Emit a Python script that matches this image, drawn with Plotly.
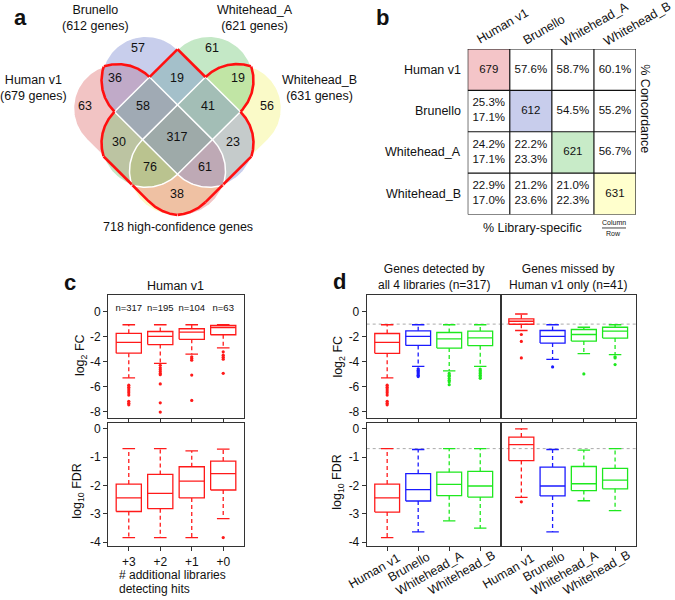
import numpy as np
import plotly.graph_objects as go

W, H = 675, 600
FONT = "Liberation Sans, Arial, Helvetica, sans-serif"

# ============================ DATA ============================
libraries = ["Human v1", "Brunello", "Whitehead_A", "Whitehead_B"]
library_gene_counts = [679, 612, 621, 631]
high_confidence_genes = 718

# Venn regions (membership code: H=Human v1, B=Brunello, A=Whitehead_A, W=Whitehead_B)
venn_region_keys = ["H", "B", "A", "W", "HB", "BA", "AW", "HBA", "BAW",
                    "HBAW", "HA", "BW", "HAW", "HBW", "HW"]
venn_region_counts = [63, 57, 61, 56, 36, 19, 19, 58, 41, 317, 30, 23, 76, 61, 38]

# Table (panel b)
table_diagonal = [679, 612, 621, 631]
concordance_row = [0, 0, 0, 1, 1, 2]
concordance_col = [1, 2, 3, 2, 3, 3]
concordance_pct = [57.6, 58.7, 60.1, 54.5, 55.2, 56.7]
specific_row = [1, 2, 2, 3, 3, 3]
specific_col = [0, 0, 1, 0, 1, 2]
specific_pct_column = [25.3, 24.2, 22.2, 22.9, 21.2, 21.0]
specific_pct_row = [17.1, 17.1, 23.3, 17.0, 23.6, 22.3]

# Panel c (Human v1 hits by # additional libraries)
c_groups = ["+3", "+2", "+1", "+0"]
c_n = [317, 195, 104, 63]
c_fc_low = [-5.30, -4.15, -3.41, -2.91]
c_fc_q1 = [-3.33, -2.64, -2.22, -1.85]
c_fc_med = [-2.46, -1.98, -1.64, -1.27]
c_fc_q3 = [-1.74, -1.59, -1.37, -1.11]
c_fc_up = [-1.05, -1.05, -1.05, -1.05]
c_fc_out = [[-5.89, -6.05, -6.2, -6.35, -6.5, -6.68, -7.18, -7.33, -7.46],
            [-4.3, -4.5, -4.65, -4.8, -4.95, -5.05, -5.79, -7.30, -8.04],
            [-3.62, -3.75, -3.89, -5.08, -7.11],
            [-3.22, -3.49, -3.65, -3.81, -4.94]]
c_fdr_low = [-3.84, -3.84, -3.84, -3.17]
c_fdr_q1 = [-2.92, -2.82, -2.44, -2.16]
c_fdr_med = [-2.44, -2.28, -1.85, -1.58]
c_fdr_q3 = [-1.95, -1.61, -1.34, -1.14]
c_fdr_up = [-0.70, -0.70, -0.78, -0.72]
c_fdr_out = [[], [], [], [-3.84]]

# Panel d
d_titles = ["Genes detected by<br>all 4 libraries (n=317)",
            "Genes missed by<br>Human v1 only (n=41)"]
d_colors = ["#ff1a1a", "#1a1aff", "#1ee81e", "#1ee81e"]
fc_cutoff = -1.0
fdr_cutoff = np.log10(0.2)

d_all_fc_low = [-5.31, -4.38, -4.75, -4.38]
d_all_fc_q1 = [-3.34, -2.71, -2.92, -2.73]
d_all_fc_med = [-2.47, -1.99, -2.18, -2.10]
d_all_fc_q3 = [-1.75, -1.54, -1.67, -1.56]
d_all_fc_up = [-1.05, -1.05, -1.05, -1.05]
d_all_fc_out = [[-5.89, -6.05, -6.2, -6.35, -6.5, -6.68, -7.18, -7.33, -7.46],
                [-4.58, -4.69, -4.8, -4.9, -5.0, -5.1, -5.2],
                [-4.95, -5.09, -5.2, -5.36, -5.5, -5.62, -5.85],
                [-4.6, -4.72, -4.83, -4.95, -5.09, -5.22, -5.34]]
d_miss_fc_low = [-1.51, -3.82, -3.37, -3.45]
d_miss_fc_q1 = [-1.01, -2.52, -2.36, -2.12]
d_miss_fc_med = [-0.77, -1.99, -1.83, -1.56]
d_miss_fc_q3 = [-0.58, -1.51, -1.43, -1.25]
d_miss_fc_up = [-0.19, -1.05, -1.25, -1.05]
d_miss_fc_out = [[-1.83, -2.39, -3.71], [-4.43], [-4.99], [-3.62, -3.71, -4.24]]

d_all_fdr_low = [-3.84, -3.64, -3.25, -3.51]
d_all_fdr_q1 = [-2.94, -2.55, -2.36, -2.41]
d_all_fdr_med = [-2.44, -2.15, -1.96, -2.02]
d_all_fdr_q3 = [-1.95, -1.58, -1.53, -1.50]
d_all_fdr_up = [-0.70, -0.73, -0.70, -0.70]
d_all_fdr_out = [[], [], [], []]
d_miss_fdr_low = [-2.42, -3.64, -2.54, -2.89]
d_miss_fdr_q1 = [-1.12, -2.37, -2.18, -2.12]
d_miss_fdr_med = [-0.56, -2.02, -1.94, -1.81]
d_miss_fdr_q3 = [-0.29, -1.35, -1.33, -1.40]
d_miss_fdr_up = [0.0, -0.73, -0.75, -0.70]
d_miss_fdr_out = [[-2.58], [], [], []]

fc_ticks = [0, -2, -4, -6, -8]
fdr_ticks = [0, -1, -2, -3, -4]

# ============================ HELPERS ============================
def dom_x(x0, x1):
    return [x0 / W, x1 / W]


def dom_y(y0, y1):
    return [1 - y1 / H, 1 - y0 / H]


def PX(x):
    return x / W


def PY(y):
    return 1 - y / H


fig = go.Figure()
annotations = []
shapes = []

# ============================ PANEL a (Venn) ============================
VX0, VY0, VR = 177.5, 139.5, 44.5


def uv(u, v):
    return (VX0 + (u - v) / 2.0, VY0 + (u + v) / 2.0)


venn_segments = {
    "Human v1": (uv(-91, 28), uv(35, 28)),
    "Brunello": (uv(-91, -28), uv(35, -28)),
    "Whitehead_A": (uv(-28, -91), uv(-28, 35)),
    "Whitehead_B": (uv(28, -91), uv(28, 35)),
}
venn_fill = {
    "Human v1": "rgba(222,108,108,0.4)",
    "Brunello": "rgba(117,132,207,0.4)",
    "Whitehead_A": "rgba(107,197,112,0.4)",
    "Whitehead_B": "rgba(242,242,117,0.4)",
}
draw_order = ["Whitehead_B", "Human v1", "Whitehead_A", "Brunello"]


def stadium(p1, p2, r, n=90):
    (x1, y1), (x2, y2) = p1, p2
    ad = np.arctan2(y2 - y1, x2 - x1)
    t2 = np.linspace(ad - np.pi / 2, ad + np.pi / 2, n)
    t1 = np.linspace(ad + np.pi / 2, ad + 3 * np.pi / 2, n)
    xs = np.concatenate([x2 + r * np.cos(t2), x1 + r * np.cos(t1), [x2 + r * np.cos(t2[0])]])
    ys = np.concatenate([y2 + r * np.sin(t2), y1 + r * np.sin(t1), [y2 + r * np.sin(t2[0])]])
    return xs, ys


def resample(xs, ys, n):
    seg = np.hypot(np.diff(xs), np.diff(ys))
    s = np.concatenate([[0], np.cumsum(seg)])
    t = np.linspace(0, s[-1], n)
    return np.interp(t, s, xs), np.interp(t, s, ys)


def seg_dist(px, py, a, b):
    ax, ay = a
    bx, by = b
    dx, dy = bx - ax, by - ay
    t = np.clip(((px - ax) * dx + (py - ay) * dy) / (dx * dx + dy * dy), 0, 1)
    return np.hypot(px - (ax + t * dx), py - (ay + t * dy))


for name in draw_order:
    xs, ys = stadium(*venn_segments[name], VR)
    fig.add_trace(go.Scatter(x=xs, y=ys, mode="lines", fill="toself",
                             fillcolor=venn_fill[name], line=dict(width=0),
                             hoverinfo="skip", showlegend=False, xaxis="x", yaxis="y"))
for name in draw_order:
    xs, ys = stadium(*venn_segments[name], VR)
    fig.add_trace(go.Scatter(x=xs, y=ys, mode="lines", line=dict(color="white", width=1.5),
                             hoverinfo="skip", showlegend=False, xaxis="x", yaxis="y"))

# red outline: boundary of the region covered by >= 2 libraries
for name in libraries:
    xs, ys = resample(*stadium(*venn_segments[name], VR, n=400), 1600)
    others = [venn_segments[o] for o in libraries if o != name]
    cnt = np.zeros_like(xs)
    for a, b in others:
        cnt += (seg_dist(xs, ys, a, b) < VR).astype(float)
    keep = cnt == 1
    ox, oy = [], []
    for k in range(len(xs)):
        if keep[k]:
            ox.append(float(xs[k])); oy.append(float(ys[k]))
        elif ox and ox[-1] is not None:
            ox.append(None); oy.append(None)
    fig.add_trace(go.Scatter(x=ox, y=oy, mode="lines", line=dict(color="#ff1010", width=2.6),
                             connectgaps=False, hoverinfo="skip", showlegend=False,
                             xaxis="x", yaxis="y"))

venn_label_xy = {
    "H": (85, 107), "B": (138, 48), "A": (212, 48), "W": (267, 107),
    "HB": (115, 78), "BA": (177, 78), "AW": (238, 78), "HBA": (143, 107),
    "BAW": (208, 107), "HBAW": (177, 138), "HA": (119, 143), "BW": (233, 143),
    "HAW": (150, 168), "HBW": (205, 168), "HW": (177, 195),
}
fig.add_trace(go.Scatter(
    x=[venn_label_xy[k][0] for k in venn_region_keys],
    y=[venn_label_xy[k][1] for k in venn_region_keys],
    text=[str(v) for v in venn_region_counts], mode="text",
    textfont=dict(family=FONT, size=12.5, color="#111"),
    hoverinfo="skip", showlegend=False, xaxis="x", yaxis="y"))

set_label_xy = {"Human v1": (33, 87.5), "Brunello": (95, 17.5),
                "Whitehead_A": (255, 17.5), "Whitehead_B": (319, 87.5)}
for name, cnt in zip(libraries, library_gene_counts):
    x, y = set_label_xy[name]
    annotations.append(dict(x=PX(x), y=PY(y), xref="paper", yref="paper",
                            text=f"{name}<br>({cnt} genes)", showarrow=False,
                            font=dict(family=FONT, size=12.5, color="#111"),
                            xanchor="center", yanchor="middle"))
annotations.append(dict(x=PX(178), y=PY(228), xref="paper", yref="paper",
                        text=f"{high_confidence_genes} high-confidence genes", showarrow=False,
                        font=dict(family=FONT, size=12.5, color="#111"),
                        xanchor="center", yanchor="middle"))

# ============================ PANEL b (table) ============================
nlib = len(libraries)
zt = [[(i + 1) if i == j else 0 for j in range(nlib)] for i in range(nlib)]
diag_cols = ["white", "#f4c5c8", "#c8cdec", "#c8ebc8", "#ffffcd"]
cs = []
for k, col in enumerate(diag_cols):
    lo = max(0, (k - 0.5) / 4)
    hi = min(1, (k + 0.5) / 4)
    cs += [[lo, col], [hi, col]]
fig.add_trace(go.Heatmap(z=zt, x=[j + 0.5 for j in range(nlib)], y=[i + 0.5 for i in range(nlib)],
                         zmin=0, zmax=4, colorscale=cs, showscale=False, hoverinfo="skip",
                         xaxis="x2", yaxis="y2"))
gxl, gyl = [], []
for k in range(nlib + 1):
    gxl += [k, k, None, 0, nlib, None]
    gyl += [0, nlib, None, k, k, None]
fig.add_trace(go.Scatter(x=gxl, y=gyl, mode="lines", line=dict(color="#111", width=1.2),
                         hoverinfo="skip", showlegend=False, xaxis="x2", yaxis="y2"))
tx, ty, tt = [], [], []
for i, v in enumerate(table_diagonal):
    tx.append(i + 0.5); ty.append(i + 0.5); tt.append(str(v))
for r, c, v in zip(concordance_row, concordance_col, concordance_pct):
    tx.append(c + 0.5); ty.append(r + 0.5); tt.append(f"{v:.1f}%")
for r, c, a, b in zip(specific_row, specific_col, specific_pct_column, specific_pct_row):
    tx.append(c + 0.5); ty.append(r + 0.5); tt.append(f"{a:.1f}%<br>{b:.1f}%")
fig.add_trace(go.Scatter(x=tx, y=ty, text=tt, mode="text",
                         textfont=dict(family=FONT, size=11.5, color="#111"),
                         hoverinfo="skip", showlegend=False, xaxis="x2", yaxis="y2"))

TB_X0, TB_X1, TB_Y0, TB_Y1 = 467.7, 636.0, 48.3, 215.0
cell_h = (TB_Y1 - TB_Y0) / nlib
for i, name in enumerate(libraries):
    annotations.append(dict(x=PX(TB_X0 - 5), y=PY(TB_Y0 + (i + 0.5) * cell_h), xref="paper",
                            yref="paper", text=name, showarrow=False, xanchor="right",
                            yanchor="middle", font=dict(family=FONT, size=12.5, color="#111")))
header_xy = [(502.5, 25), (543.7, 29), (595, 23.5), (637, 23.5)]
for name, (x, y) in zip(libraries, header_xy):
    annotations.append(dict(x=PX(x), y=PY(y), xref="paper", yref="paper", text=name,
                            showarrow=False, textangle=-30, xanchor="center", yanchor="middle",
                            font=dict(family=FONT, size=12.5, color="#111")))
annotations.append(dict(x=PX(645), y=PY(108), xref="paper", yref="paper", text="% Concordance",
                        showarrow=False, textangle=90, xanchor="center", yanchor="middle",
                        font=dict(family=FONT, size=12.5, color="#111")))
annotations.append(dict(x=PX(532), y=PY(228.5), xref="paper", yref="paper",
                        text="% Library-specific", showarrow=False, xanchor="center",
                        yanchor="middle", font=dict(family=FONT, size=12.5, color="#111")))
annotations.append(dict(x=PX(613.5), y=PY(223), xref="paper", yref="paper", text="Column",
                        showarrow=False, xanchor="center", yanchor="middle",
                        font=dict(family=FONT, size=7, color="#111")))
annotations.append(dict(x=PX(613.5), y=PY(234), xref="paper", yref="paper", text="Row",
                        showarrow=False, xanchor="center", yanchor="middle",
                        font=dict(family=FONT, size=7, color="#111")))
shapes.append(dict(type="line", xref="paper", yref="paper", x0=PX(602), x1=PX(626),
                   y0=PY(228.5), y1=PY(228.5), line=dict(color="#111", width=0.8)))

# ============================ BOXPLOTS ============================
def add_box(xa, ya, xc, low, q1, med, q3, up, outs, color, hw=0.4, cw=0.2):
    sx = [xc - hw, xc + hw, xc + hw, xc - hw, xc - hw, None, xc - hw, xc + hw, None,
          xc - cw, xc + cw, None, xc - cw, xc + cw]
    sy = [q1, q1, q3, q3, q1, None, med, med, None, up, up, None, low, low]
    fig.add_trace(go.Scatter(x=sx, y=sy, mode="lines", line=dict(color=color, width=1.3),
                             hoverinfo="skip", showlegend=False, xaxis=xa, yaxis=ya))
    fig.add_trace(go.Scatter(x=[xc, xc, None, xc, xc], y=[q3, up, None, q1, low], mode="lines",
                             line=dict(color=color, width=1.3, dash="4px,3px"),
                             hoverinfo="skip", showlegend=False, xaxis=xa, yaxis=ya))
    if outs:
        fig.add_trace(go.Scatter(x=[xc] * len(outs), y=outs, mode="markers",
                                 marker=dict(color=color, size=3.2, line=dict(width=0)),
                                 hoverinfo="skip", showlegend=False, xaxis=xa, yaxis=ya))


def add_group(xa, ya, low, q1, med, q3, up, outs, colors):
    for i in range(len(low)):
        add_box(xa, ya, i + 1, low[i], q1[i], med[i], q3[i], up[i], outs[i], colors[i])


red4 = [d_colors[0]] * 4
add_group("x3", "y3", c_fc_low, c_fc_q1, c_fc_med, c_fc_q3, c_fc_up, c_fc_out, red4)
add_group("x4", "y4", c_fdr_low, c_fdr_q1, c_fdr_med, c_fdr_q3, c_fdr_up, c_fdr_out, red4)
fig.add_trace(go.Scatter(x=[1, 2, 3, 4], y=[0.2] * 4, text=[f"n={n}" for n in c_n], mode="text",
                         textfont=dict(family=FONT, size=9.5, color="#111"),
                         hoverinfo="skip", showlegend=False, xaxis="x3", yaxis="y3"))
add_group("x5", "y5", d_all_fc_low, d_all_fc_q1, d_all_fc_med, d_all_fc_q3, d_all_fc_up,
          d_all_fc_out, d_colors)
add_group("x6", "y6", d_miss_fc_low, d_miss_fc_q1, d_miss_fc_med, d_miss_fc_q3, d_miss_fc_up,
          d_miss_fc_out, d_colors)
add_group("x7", "y7", d_all_fdr_low, d_all_fdr_q1, d_all_fdr_med, d_all_fdr_q3, d_all_fdr_up,
          d_all_fdr_out, d_colors)
add_group("x8", "y8", d_miss_fdr_low, d_miss_fdr_q1, d_miss_fdr_med, d_miss_fdr_q3,
          d_miss_fdr_up, d_miss_fdr_out, d_colors)

for xa, ya, yv in [("x5", "y5", fc_cutoff), ("x6", "y6", fc_cutoff),
                   ("x7", "y7", fdr_cutoff), ("x8", "y8", fdr_cutoff)]:
    shapes.append(dict(type="line", xref=f"{xa} domain", yref=ya, x0=0, x1=1, y0=yv, y1=yv,
                       line=dict(color="#aaaaaa", width=1, dash="dot"), layer="below"))

# ============================ AXES ============================
AXC = "#333"
TF = dict(family=FONT, size=12, color="#111")
TOP_Y = (296, 420)
BOT_Y = (425, 549)
FC_RANGE = [-8.533, 1.328]
FDR_RANGE = [-4.151, 0.2]
X_RANGE = [0.34, 4.66]


def box_xaxis(idx, xpix, ticktext=None):
    return dict(domain=dom_x(*xpix), range=X_RANGE, anchor=f"y{idx}",
                tickmode="array", tickvals=[1, 2, 3, 4], ticktext=ticktext,
                showticklabels=ticktext is not None,
                ticks="outside", ticklen=4, tickcolor=AXC, tickfont=TF,
                showline=True, mirror=True, linecolor=AXC, linewidth=1,
                showgrid=False, zeroline=False, fixedrange=True)


def box_yaxis(idx, ypix, rng, tickvals, labels=True):
    return dict(domain=dom_y(*ypix), range=rng, anchor=f"x{idx}",
                tickmode="array", tickvals=tickvals if labels else [],
                ticktext=[str(v) for v in tickvals] if labels else [],
                showticklabels=labels, ticks="outside" if labels else "",
                ticklen=4, tickcolor=AXC, tickfont=TF,
                showline=True, mirror=True, linecolor=AXC, linewidth=1,
                showgrid=False, zeroline=False, fixedrange=True)


C_X = (108, 244)
DL_X = (366.7, 500.7)
DR_X = (500.7, 635.7)

layout_axes = dict(
    xaxis=dict(domain=dom_x(0, 340), range=[0, 340], visible=False, fixedrange=True, anchor="y"),
    yaxis=dict(domain=dom_y(0, 240), range=[240, 0], visible=False, fixedrange=True, anchor="x"),
    xaxis2=dict(domain=dom_x(TB_X0, TB_X1), range=[0, 4], visible=False, fixedrange=True,
                anchor="y2"),
    yaxis2=dict(domain=dom_y(TB_Y0, TB_Y1), range=[4, 0], visible=False, fixedrange=True,
                anchor="x2"),
    xaxis3=box_xaxis(3, C_X),
    yaxis3=box_yaxis(3, TOP_Y, FC_RANGE, fc_ticks),
    xaxis4=box_xaxis(4, C_X, c_groups),
    yaxis4=box_yaxis(4, BOT_Y, FDR_RANGE, fdr_ticks),
    xaxis5=box_xaxis(5, DL_X),
    yaxis5=box_yaxis(5, TOP_Y, FC_RANGE, fc_ticks),
    xaxis6=box_xaxis(6, DR_X),
    yaxis6=box_yaxis(6, TOP_Y, FC_RANGE, fc_ticks, labels=False),
    xaxis7=box_xaxis(7, DL_X),
    yaxis7=box_yaxis(7, BOT_Y, FDR_RANGE, fdr_ticks),
    xaxis8=box_xaxis(8, DR_X),
    yaxis8=box_yaxis(8, BOT_Y, FDR_RANGE, fdr_ticks, labels=False),
)


def ann(x, y, text, size=12, angle=0, xanchor="center", align="center", bold=False):
    annotations.append(dict(x=PX(x), y=PY(y), xref="paper", yref="paper",
                            text=f"<b>{text}</b>" if bold else text, showarrow=False,
                            textangle=angle, xanchor=xanchor, yanchor="middle", align=align,
                            font=dict(family=FONT, size=size, color="#111")))


# rotated library labels under panel d (text centre offset from its tick, in px)
label_dx = {"Human v1": -12.5, "Brunello": -9.0, "Whitehead_A": -19.0, "Whitehead_B": -19.0}
label_cy = {"Human v1": 574.0, "Brunello": 570.0, "Whitehead_A": 576.0, "Whitehead_B": 575.5}
for (x0, x1) in (DL_X, DR_X):
    for i, name in enumerate(libraries):
        tick_px = x0 + (i + 1 - X_RANGE[0]) / (X_RANGE[1] - X_RANGE[0]) * (x1 - x0)
        ann(tick_px + label_dx[name], label_cy[name], name, 12.5, -30)

ann(80.5, 357, "log<sub>2</sub> FC", 12.5, -90)
ann(78, 493, "log<sub>10</sub> FDR", 12.5, -90)
ann(339, 358, "log<sub>2</sub> FC", 12.5, -90)
ann(338, 484, "log<sub>10</sub> FDR", 12.5, -90)
ann(175.5, 287, "Human v1", 12.5)
ann(117, 578.3, "# additional libraries", 12, xanchor="left", align="left")
ann(117, 592.3, "detecting hits", 12, xanchor="left", align="left")
ann(433.7, 278, d_titles[0], 12)
ann(568, 278, d_titles[1], 12)

ann(20, 17, "a", 22, bold=True)
ann(383, 17, "b", 22, bold=True)
ann(70, 283, "c", 22, bold=True)
ann(339, 282, "d", 22, bold=True)

fig.update_layout(
    width=W, height=H, margin=dict(l=0, r=0, t=0, b=0, pad=0),
    paper_bgcolor="white", plot_bgcolor="rgba(0,0,0,0)", showlegend=False,
    font=dict(family=FONT, size=12, color="#111"),
    annotations=annotations, shapes=shapes, **layout_axes,
)

page_css = ("document.documentElement.style.margin='0';"
            "document.documentElement.style.overflow='hidden';"
            "document.body.style.margin='0';"
            "document.body.style.overflow='hidden';")
fig.write_html("out.html", config={"displayModeBar": False, "staticPlot": True},
               post_script=page_css)
